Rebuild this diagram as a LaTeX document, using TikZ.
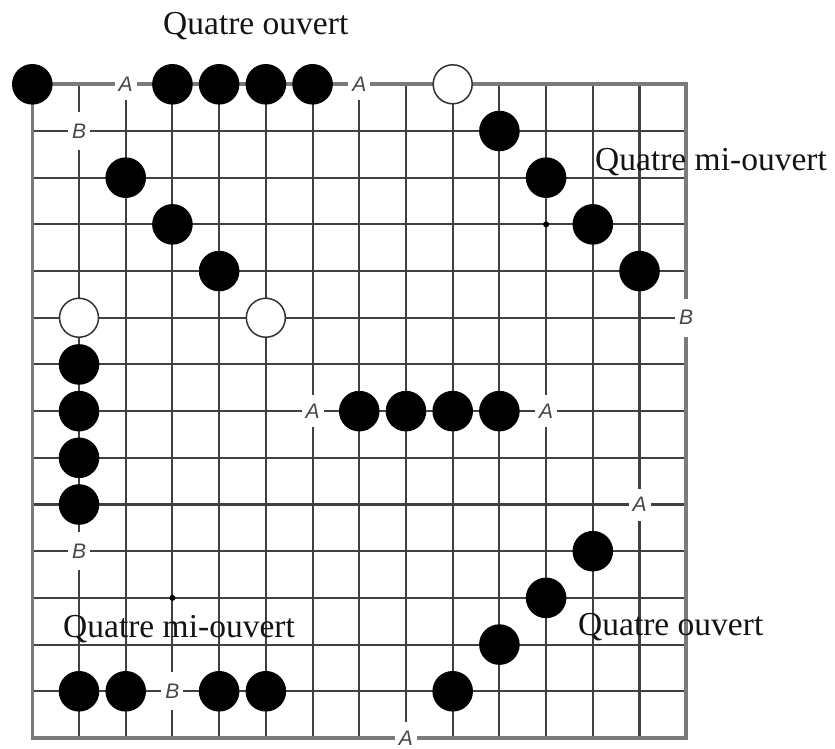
\documentclass[tikz,border=0pt]{standalone}
\usepackage{fontspec}
\setmainfont{Liberation Serif}
\setsansfont{Liberation Sans}
\begin{document}
\begin{tikzpicture}[x=1pt,y=-1pt]
\useasboundingbox (0,0) rectangle (835,749);
\tikzset{
 gridline/.style={line width=2.1pt, draw=black!75},
 border/.style={line width=3.6pt, draw=black!52},
 bstone/.style={circle, fill=black, minimum size=40.6pt, inner sep=0pt},
 wstone/.style={circle, fill=white, draw=black!80, line width=1.5pt, minimum size=39pt, inner sep=0pt},
 lbla/.style={fill=white, inner sep=0pt, minimum width=22pt, minimum height=32pt, font=\sffamily\itshape\fontsize{21}{21}\selectfont, text=black!72},
 lblb/.style={lbla, minimum height=38pt},
 hoshi/.style={circle, fill=black, minimum size=6pt, inner sep=0pt},
 caption/.style={font=\fontsize{33.5}{40}\selectfont, anchor=base west, inner sep=0pt, text=black!92},
}
\begin{scope}[shift={(32.3,84.3)}, x=46.71pt, y=-46.69pt]
 \foreach \i in {1,...,13} {
   \draw[gridline] (\i,0) -- (\i,14);
   \draw[gridline] (0,\i) -- (14,\i);
 }
 \draw[border] (0,0) rectangle (14,14);
 % hoshi points
 \node[hoshi] (h1) at (3,11) {};
 \node[hoshi] (h2) at (11,3) {};
 % A / B labels
 \node[lbla] (a1) at (2,0) {A};
 \node[lbla] (a2) at (7,0) {A};
 \node[lbla] (a3) at (6,7) {A};
 \node[lbla] (a4) at (11,7) {A};
 \node[lbla] (a5) at (13,9) {A};
 \node[lbla] (a6) at (8,14) {A};
 \node[lblb] (b1) at (1,1) {B};
 \node[lblb] (b2) at (14,5) {B};
 \node[lblb] (b3) at (1,10) {B};
 \node[lblb] (b4) at (3,13) {B};
 % top row
 \node[bstone] (s00) at (0,0) {};
 \node[bstone] (s30) at (3,0) {};
 \node[bstone] (s40) at (4,0) {};
 \node[bstone] (s50) at (5,0) {};
 \node[bstone] (s60) at (6,0) {};
 \node[wstone] (w90) at (9,0) {};
 % diagonal top-left
 \node[bstone] (s22) at (2,2) {};
 \node[bstone] (s33) at (3,3) {};
 \node[bstone] (s44) at (4,4) {};
 % white stones
 \node[wstone] (w15) at (1,5) {};
 \node[wstone] (w55) at (5,5) {};
 % vertical column
 \node[bstone] (s16) at (1,6) {};
 \node[bstone] (s17) at (1,7) {};
 \node[bstone] (s18) at (1,8) {};
 \node[bstone] (s19) at (1,9) {};
 % bottom row
 \node[bstone] (s113) at (1,13) {};
 \node[bstone] (s213) at (2,13) {};
 \node[bstone] (s413) at (4,13) {};
 \node[bstone] (s513) at (5,13) {};
 % middle row
 \node[bstone] (s77) at (7,7) {};
 \node[bstone] (s87) at (8,7) {};
 \node[bstone] (s97) at (9,7) {};
 \node[bstone] (s107) at (10,7) {};
 % diagonal top-right
 \node[bstone] (s101) at (10,1) {};
 \node[bstone] (s112) at (11,2) {};
 \node[bstone] (s123) at (12,3) {};
 \node[bstone] (s134) at (13,4) {};
 % diagonal bottom-right
 \node[bstone] (s1210) at (12,10) {};
 \node[bstone] (s1111) at (11,11) {};
 \node[bstone] (s1012) at (10,12) {};
 \node[bstone] (s913) at (9,13) {};
\end{scope}
% captions
\node[caption] (c1) at (163,35) {Quatre ouvert};
\node[caption] (c2) at (595,170) {Quatre mi-ouvert};
\node[caption] (c3) at (63,637) {Quatre mi-ouvert};
\node[caption] (c4) at (578,635) {Quatre ouvert};
\end{tikzpicture}
\end{document}
